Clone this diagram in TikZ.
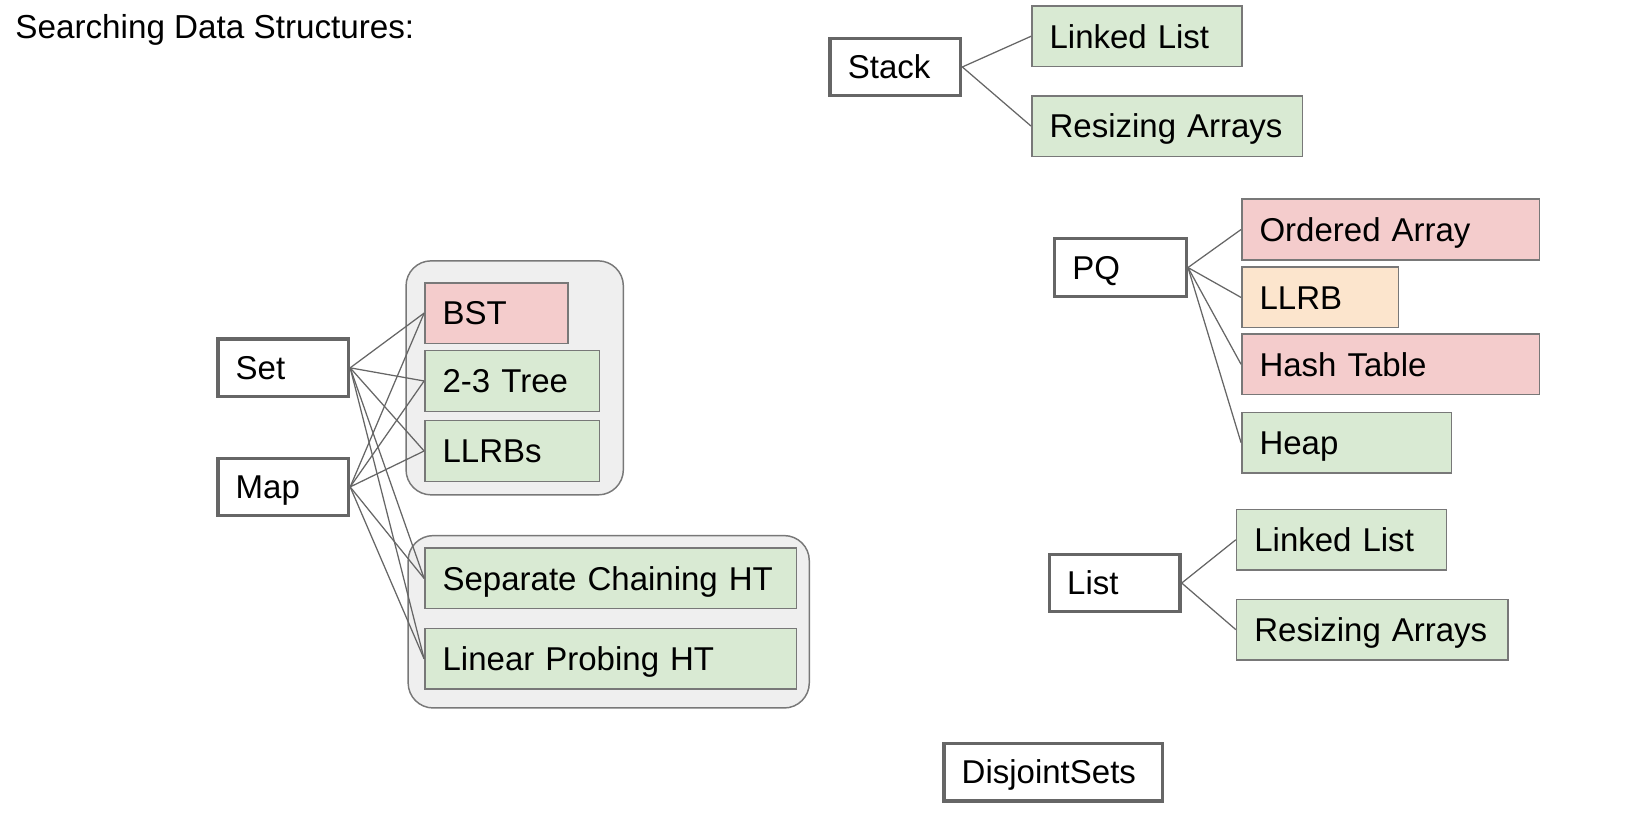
\documentclass[tikz,border=0pt]{standalone}
\usepackage{fontspec}
\setmainfont{Liberation Sans}
\usetikzlibrary{positioning}
\definecolor{dsgreen}{HTML}{D9EAD3}
\definecolor{dsred}{HTML}{F4CCCC}
\definecolor{dsorange}{HTML}{FCE5CD}
\definecolor{groupfill}{HTML}{EFEFEF}
\definecolor{edgegray}{HTML}{666666}
\definecolor{thingray}{HTML}{787878}

\begin{document}
\begin{tikzpicture}[
  x=0.5pt, y=-0.5pt,
  every node/.style={font=\fontsize{15.8}{19}\selectfont},
  ds/.style={rectangle, anchor=north west, align=left, inner xsep=8.5pt, inner ysep=0pt, text height=11.3pt, text depth=0pt},
  impl/.style={ds, draw=thingray, line width=0.7pt, fill=#1, minimum height=29pt},
  adt/.style={ds, draw=edgegray, line width=1.6pt, fill=white, minimum height=27.5pt},
  group/.style={rectangle, anchor=north west, rounded corners=12pt, draw=thingray, line width=0.7pt, fill=groupfill, inner sep=0pt},
  link/.style={draw=edgegray, line width=0.6pt},
]
\useasboundingbox (0,0) rectangle (1568,794.6);

\node[anchor=base west, inner sep=0pt, font=\fontsize{15.9}{19}\selectfont] (title) at (14.4,36.4) {Searching Data Structures:};

% Groups
\node[group, minimum width=104pt, minimum height=112pt] (trees) at (388,249) {};
\node[group, minimum width=192pt, minimum height=82.5pt] (hashing) at (390,512) {};

% Set and Map
\node[adt, text width=45.5pt] (set) at (207,323) {Set};
\node[adt, text width=45.5pt] (map) at (207,437) {Map};
\node[impl=dsred, text width=51.5pt] (bst) at (406,270) {BST};
\node[impl=dsgreen, text width=66.5pt] (tree23) at (406,335) {2-3 Tree};
\node[impl=dsgreen, text width=66.5pt] (llrbs) at (406,402) {LLRBs};
\node[impl=dsgreen, text width=161pt] (chaining) at (406,524) {Separate Chaining HT};
\node[impl=dsgreen, text width=161pt] (probing) at (406,601) {Linear Probing HT};

% Stack
\node[adt, text width=45.5pt] (stack) at (793,35) {Stack};
\node[impl=dsgreen, text width=83.5pt] (stackll) at (987,5) {Linked List};
\node[impl=dsgreen, text width=112.5pt] (stackra) at (987,91) {Resizing Arrays};

% PQ
\node[adt, text width=46pt] (pq) at (1008,227) {PQ};
\node[impl=dsred, text width=125.5pt] (ordered) at (1188,190) {Ordered Array};
\node[impl=dsorange, text width=58pt] (llrb) at (1188,255) {LLRB};
\node[impl=dsred, text width=125.5pt] (hashtable) at (1188,319) {Hash Table};
\node[impl=dsgreen, text width=83.5pt] (heap) at (1188,394) {Heap};

% List
\node[adt, text width=45.5pt] (list) at (1003,529) {List};
\node[impl=dsgreen, text width=83.5pt] (listll) at (1183,487) {Linked List};
\node[impl=dsgreen, text width=113pt] (listra) at (1183,573) {Resizing Arrays};

\node[adt, text width=87.5pt] (disjoint) at (902,710) {DisjointSets};

% Links
\foreach \src in {set, map}
  \foreach \dst in {bst, tree23, llrbs, chaining, probing}
    \draw[link] (\src.east) -- (\dst.west);
\foreach \dst in {stackll, stackra}
  \draw[link] (stack.east) -- (\dst.west);
\foreach \dst in {ordered, llrb, hashtable, heap}
  \draw[link] (pq.east) -- (\dst.west);
\foreach \dst in {listll, listra}
  \draw[link] (list.east) -- (\dst.west);

\end{tikzpicture}
\end{document}
